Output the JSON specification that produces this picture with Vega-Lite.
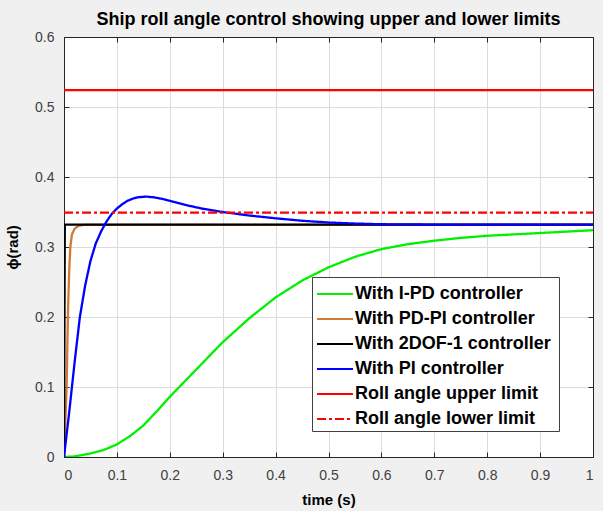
{
  "$schema": "https://vega.github.io/schema/vega-lite/v6.json",
  "width": 529,
  "height": 420,
  "autosize": "none",
  "padding": {"left": 64, "top": 37, "right": 10, "bottom": 54},
  "background": "#f0f0f0",
  "title": {"text": "Ship roll angle control showing upper and lower limits", "fontSize": 18, "fontWeight": "bold", "font": "Liberation Sans", "color": "#000000", "anchor": "middle", "offset": 1},
  "config": {
    "view": {"stroke": "#262626", "strokeWidth": 1, "fill": "white"},
    "axis": {"labelFont": "Liberation Sans", "labelFontSize": 14, "labelColor": "#404040", "titleFont": "Liberation Sans", "titleFontSize": 15, "titleFontWeight": "bold", "titleColor": "#000000", "domainColor": "#262626", "tickColor": "#262626", "gridColor": "#dcdcdc", "tickSize": -5}
  },
  "data": {"values": [
    {"t": 0, "v": 0, "s": "With I-PD controller"},
    {"t": 0.02, "v": 0.0008, "s": "With I-PD controller"},
    {"t": 0.05, "v": 0.005, "s": "With I-PD controller"},
    {"t": 0.075, "v": 0.01, "s": "With I-PD controller"},
    {"t": 0.1, "v": 0.018, "s": "With I-PD controller"},
    {"t": 0.125, "v": 0.03, "s": "With I-PD controller"},
    {"t": 0.15, "v": 0.045, "s": "With I-PD controller"},
    {"t": 0.175, "v": 0.065, "s": "With I-PD controller"},
    {"t": 0.2, "v": 0.086, "s": "With I-PD controller"},
    {"t": 0.25, "v": 0.125, "s": "With I-PD controller"},
    {"t": 0.3, "v": 0.164, "s": "With I-PD controller"},
    {"t": 0.35, "v": 0.198, "s": "With I-PD controller"},
    {"t": 0.4, "v": 0.228, "s": "With I-PD controller"},
    {"t": 0.45, "v": 0.252, "s": "With I-PD controller"},
    {"t": 0.5, "v": 0.271, "s": "With I-PD controller"},
    {"t": 0.55, "v": 0.286, "s": "With I-PD controller"},
    {"t": 0.6, "v": 0.297, "s": "With I-PD controller"},
    {"t": 0.65, "v": 0.304, "s": "With I-PD controller"},
    {"t": 0.7, "v": 0.309, "s": "With I-PD controller"},
    {"t": 0.75, "v": 0.313, "s": "With I-PD controller"},
    {"t": 0.8, "v": 0.316, "s": "With I-PD controller"},
    {"t": 0.85, "v": 0.318, "s": "With I-PD controller"},
    {"t": 0.9, "v": 0.32, "s": "With I-PD controller"},
    {"t": 0.95, "v": 0.322, "s": "With I-PD controller"},
    {"t": 1.0, "v": 0.324, "s": "With I-PD controller"},
    {"t": 0, "v": 0, "s": "With PD-PI controller"},
    {"t": 0.003, "v": 0.06, "s": "With PD-PI controller"},
    {"t": 0.005, "v": 0.1, "s": "With PD-PI controller"},
    {"t": 0.0065, "v": 0.167, "s": "With PD-PI controller"},
    {"t": 0.008, "v": 0.22, "s": "With PD-PI controller"},
    {"t": 0.01, "v": 0.27, "s": "With PD-PI controller"},
    {"t": 0.012, "v": 0.3, "s": "With PD-PI controller"},
    {"t": 0.015, "v": 0.318, "s": "With PD-PI controller"},
    {"t": 0.02, "v": 0.326, "s": "With PD-PI controller"},
    {"t": 0.027, "v": 0.33, "s": "With PD-PI controller"},
    {"t": 0.036, "v": 0.3315, "s": "With PD-PI controller"},
    {"t": 1.0, "v": 0.3315, "s": "With PD-PI controller"},
    {"t": 0, "v": 0, "s": "With 2DOF-1 controller"},
    {"t": 0.0015, "v": 0.332, "s": "With 2DOF-1 controller"},
    {"t": 1.0, "v": 0.332, "s": "With 2DOF-1 controller"},
    {"t": 0, "v": 0, "s": "With PI controller"},
    {"t": 0.01, "v": 0.065, "s": "With PI controller"},
    {"t": 0.02, "v": 0.135, "s": "With PI controller"},
    {"t": 0.03, "v": 0.2, "s": "With PI controller"},
    {"t": 0.04, "v": 0.245, "s": "With PI controller"},
    {"t": 0.05, "v": 0.28, "s": "With PI controller"},
    {"t": 0.06, "v": 0.305, "s": "With PI controller"},
    {"t": 0.07, "v": 0.322, "s": "With PI controller"},
    {"t": 0.08, "v": 0.336, "s": "With PI controller"},
    {"t": 0.09, "v": 0.347, "s": "With PI controller"},
    {"t": 0.1, "v": 0.355, "s": "With PI controller"},
    {"t": 0.11, "v": 0.361, "s": "With PI controller"},
    {"t": 0.12, "v": 0.366, "s": "With PI controller"},
    {"t": 0.13, "v": 0.369, "s": "With PI controller"},
    {"t": 0.14, "v": 0.371, "s": "With PI controller"},
    {"t": 0.155, "v": 0.372, "s": "With PI controller"},
    {"t": 0.17, "v": 0.371, "s": "With PI controller"},
    {"t": 0.19, "v": 0.368, "s": "With PI controller"},
    {"t": 0.21, "v": 0.364, "s": "With PI controller"},
    {"t": 0.23, "v": 0.36, "s": "With PI controller"},
    {"t": 0.26, "v": 0.355, "s": "With PI controller"},
    {"t": 0.3, "v": 0.35, "s": "With PI controller"},
    {"t": 0.35, "v": 0.345, "s": "With PI controller"},
    {"t": 0.4, "v": 0.341, "s": "With PI controller"},
    {"t": 0.45, "v": 0.3375, "s": "With PI controller"},
    {"t": 0.5, "v": 0.335, "s": "With PI controller"},
    {"t": 0.55, "v": 0.3335, "s": "With PI controller"},
    {"t": 0.6, "v": 0.3325, "s": "With PI controller"},
    {"t": 0.7, "v": 0.332, "s": "With PI controller"},
    {"t": 1.0, "v": 0.332, "s": "With PI controller"},
    {"t": 0, "v": 0.524, "s": "Roll angle upper limit"},
    {"t": 1.0, "v": 0.524, "s": "Roll angle upper limit"},
    {"t": 0, "v": 0.349, "s": "Roll angle lower limit"},
    {"t": 1.0, "v": 0.349, "s": "Roll angle lower limit"}
  ]},
  "layer": [
    {
      "mark": {"type": "line", "strokeWidth": 2.3, "clip": true},
      "encoding": {
        "x": {"field": "t", "type": "quantitative", "scale": {"domain": [0, 1], "nice": false},
              "axis": {"values": [0, 0.1, 0.2, 0.3, 0.4, 0.5, 0.6, 0.7, 0.8, 0.9, 1], "format": "~g", "title": "time (s)", "labelPadding": 16, "titlePadding": 10}},
        "y": {"field": "v", "type": "quantitative", "scale": {"domain": [0, 0.6], "nice": false},
              "axis": {"values": [0, 0.1, 0.2, 0.3, 0.4, 0.5, 0.6], "format": "~g", "title": "ϕ(rad)", "labelPadding": 15, "titlePadding": 14}},
        "color": {"field": "s", "type": "nominal",
          "scale": {"domain": ["With I-PD controller", "With PD-PI controller", "With 2DOF-1 controller", "With PI controller", "Roll angle upper limit", "Roll angle lower limit"],
                    "range": ["#00f000", "#d07a35", "#000000", "#0000ff", "#ff0000", "#ff0000"]},
          "legend": {"title": "\u00a0", "titleOrient": "right", "titlePadding": 5, "orient": "none", "legendX": 248, "legendY": 240, "fillColor": "white", "strokeColor": "#404040", "padding": 3,
                     "labelFont": "Liberation Sans", "labelFontSize": 18, "labelFontWeight": "bold", "labelColor": "#000000", "labelLimit": 0,
                     "symbolType": "M-1.4,0H1.4", "symbolSize": 660, "symbolStrokeWidth": 2, "symbolOffset": 6, "labelOffset": 6, "rowPadding": 2}},
        "strokeDash": {"field": "s", "type": "nominal",
          "scale": {"domain": ["With I-PD controller", "With PD-PI controller", "With 2DOF-1 controller", "With PI controller", "Roll angle upper limit", "Roll angle lower limit"],
                    "range": [[1, 0], [1, 0], [1, 0], [1, 0], [1, 0], [9, 3, 3, 3]]}}
      }
    },
    {
      "mark": {"type": "point", "opacity": 0},
      "encoding": {
        "x": {"field": "t", "type": "quantitative", "axis": {"orient": "top", "values": [0, 0.1, 0.2, 0.3, 0.4, 0.5, 0.6, 0.7, 0.8, 0.9, 1], "labels": false, "title": null, "grid": false}},
        "y": {"field": "v", "type": "quantitative", "axis": {"orient": "right", "values": [0, 0.1, 0.2, 0.3, 0.4, 0.5, 0.6], "labels": false, "title": null, "grid": false}}
      }
    }
  ],
  "resolve": {"axis": {"x": "independent", "y": "independent"}}
}
